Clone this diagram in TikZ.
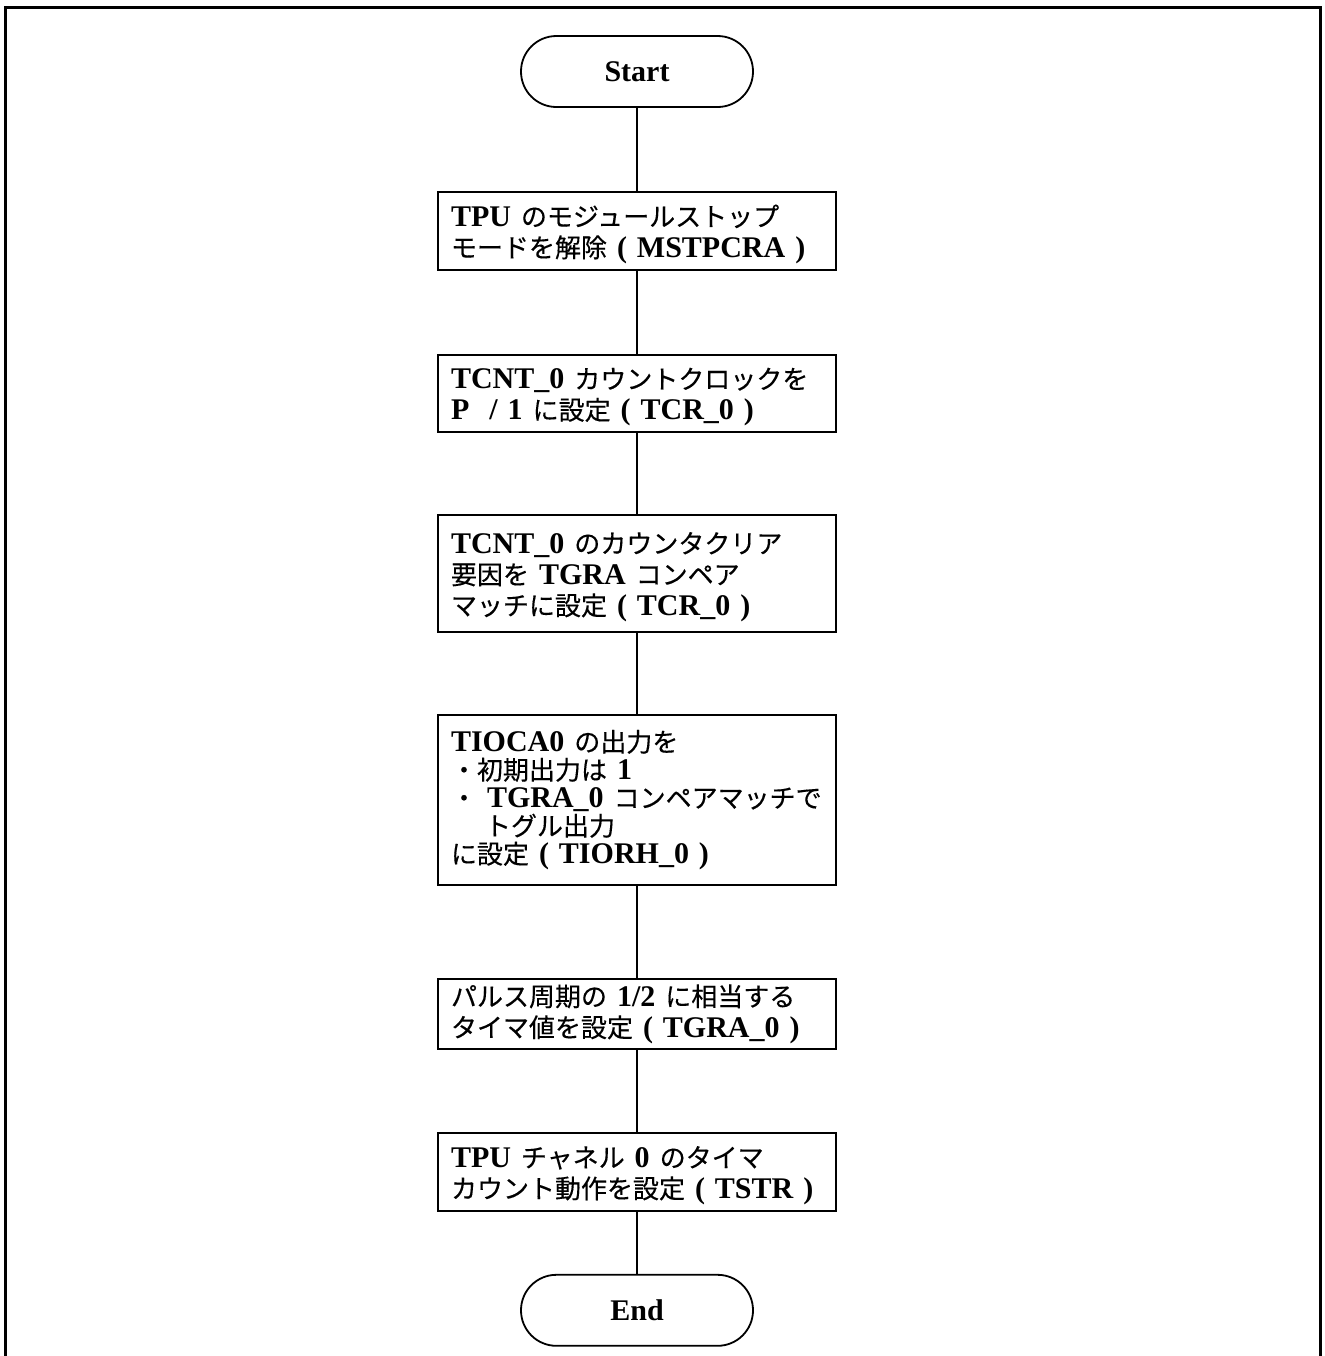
\documentclass[tikz,border=0pt]{standalone}
\usepackage{fontspec}
\setmainfont{Liberation Serif}
\newfontfamily\jpfont[FakeBold=0.3]{Noto Sans CJK JP}
\usetikzlibrary{positioning}
\newcommand{\ja}[1]{{\jpfont\mdseries\fontsize{13}{15.5}\selectfont #1}}
\lineskiplimit=-10pt

\begin{document}
\begin{tikzpicture}[
x=0.5pt, y=-0.5pt,
node distance=41.5pt,
box/.style={draw,
rectangle,
line width=1pt,
text width=186pt,
inner xsep=6.5pt,
inner ysep=1.5pt,
align=left,
font=\fontsize{15}{15.5}\selectfont\bfseries},
lowtext/.style={execute at begin node={\vrule height 14pt width 0pt\relax}},
term/.style={draw,
rectangle,
line width=0.9pt,
rounded corners=17.7pt,
minimum width=116pt,
minimum height=35.5pt,
font=\fontsize{15}{15.5}\selectfont\bfseries},
line/.style={line width=0.75pt}
]

\useasboundingbox (0,0) rectangle (1325,1356);
\clip (0,0) rectangle (1325,1356);
\draw[line width=1.5pt] (5,7.5) rectangle (1320.5,1380);

\node[term] (start) at (637,71.5) {Start};
\node[box, lowtext, minimum height=39pt, below=of start] (mstp) {TPU \ja{のモジュールストップ}\\ \ja{モードを解除} ( MSTPCRA )};
\node[box, lowtext, minimum height=38.5pt, below=of mstp] (tcr) {TCNT\_0 \ja{カウントクロックを}\\ P\hspace{10pt}/ 1 \ja{に設定} ( TCR\_0 )};
\node[box, lowtext, minimum height=58.5pt, below=40.5pt of tcr] (cclr) {TCNT\_0 \ja{のカウンタクリア}\\ \ja{要因を} TGRA \ja{コンペア}\\ \ja{マッチに設定} ( TCR\_0 )};
\node[box, minimum height=85pt, below=40.5pt of cclr, font=\fontsize{15}{14}\selectfont\bfseries] (tior) {TIOCA0 \ja{の出力を}\\ \ja{・初期出力は} 1\\ \ja{・} TGRA\_0 \ja{コンペアマッチで}\\ \hspace*{17pt}\ja{トグル出力}\\ \ja{に設定} ( TIORH\_0 )};
\node[box, minimum height=35pt, below=46pt of tior] (tgra) {\ja{パルス周期の} 1/2 \ja{に相当する}\\ \ja{タイマ値を設定} ( TGRA\_0 )};
\node[box, lowtext, minimum height=39pt, below=41pt of tgra] (tstr) {TPU \ja{チャネル} 0 \ja{のタイマ}\\ \ja{カウント動作を設定} ( TSTR )};
\node[term, below=31pt of tstr] (end) {End};

\draw[line] (start) -- (mstp);
\draw[line] (mstp) -- (tcr);
\draw[line] (tcr) -- (cclr);
\draw[line] (cclr) -- (tior);
\draw[line] (tior) -- (tgra);
\draw[line] (tgra) -- (tstr);
\draw[line] (tstr) -- (end);

\end{tikzpicture}
\end{document}
